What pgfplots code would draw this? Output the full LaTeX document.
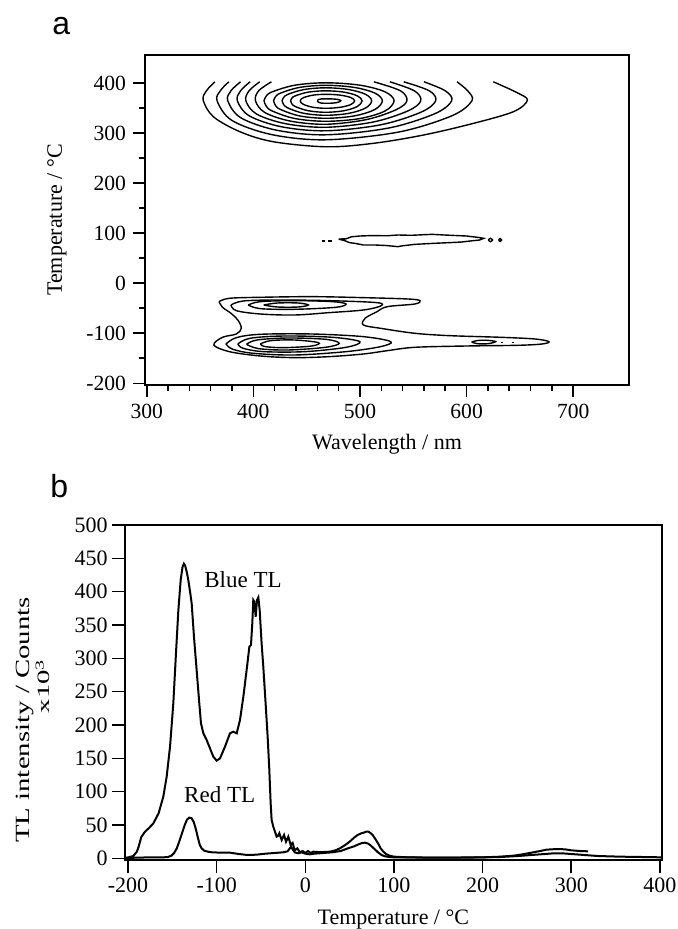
\documentclass[border=0pt]{standalone}
\usepackage{fontspec}
\setmainfont{Liberation Serif}
\newfontfamily\panelfont{Liberation Sans}
\usepackage{pgfplots}
\pgfplotsset{compat=1.18}

\pgfplotsset{
  igor/.style={
    scale only axis,
    axis line style={line width=0.8pt},
    tick align=outside, tick pos=left,
    every tick/.style={black, line width=0.8pt},
    /pgf/number format/assume math mode=true,
    /pgf/number format/1000 sep={},
  },
  cl/.style={black, line width=0.7pt, smooth, tension=0.55},
  tl/.style={black, line width=1pt, sharp plot},
}

\begin{document}
\begin{tikzpicture}
\path[use as bounding box] (0,0) rectangle (338.5pt,-464.5pt);

\node[font=\panelfont\fontsize{16}{16}\selectfont, anchor=base west, inner sep=0pt] at (26pt,-17.5pt) {a};
\node[font=\panelfont\fontsize{16}{16}\selectfont, anchor=base west, inner sep=0pt] at (25pt,-248.5pt) {b};

% ---------------- panel a: contour map ----------------
\begin{axis}[igor,
  at={(72.5pt,-27.5pt)}, anchor=north west,
  width=242pt, height=165pt,
  xmin=298.4, xmax=752.3, ymin=-203.4, ymax=456.6,
  xtick={300,400,...,700}, ytick={-200,-100,...,400},
  minor x tick num=4, minor y tick num=1,
  major tick length=6pt, minor tick length=3pt,
  tick label style={font=\fontsize{10.8}{12}\selectfont, inner sep=3.3pt},
  xlabel={Wavelength / nm}, ylabel={Temperature / °C},
  label style={font=\fontsize{11}{13}\selectfont},
  xlabel style={at={(axis description cs:0.5,-0.194)}, anchor=base},
  ylabel style={at={(axis description cs:-0.182,0.5)}, anchor=center},
]
% upper peak (~365 C), open contours cut at the top of the scan
\addplot[cl] coordinates {(364,403) (356,385) (353,366) (362.6,333) (387.6,303) (419,283) (469,273) (512.8,280) (559.7,296.6) (606.7,320) (644,343.3) (657,366) (647.6,381) (625,403)};
\addplot[cl] coordinates {(377,403) (369,385) (366,365) (379.7,326) (417,297.5) (468,287) (536.5,302.6) (586.6,335.4) (605,365) (601,385) (591,403)};
\addplot[cl] coordinates {(388,403) (379,385) (376,365) (388.3,331) (422,306.1) (468,297) (527,310.6) (570.2,339.2) (586,365) (580,385) (560,403)};
\addplot[cl] coordinates {(397,403) (388,385) (385,365) (396.1,335) (426.5,313) (468,305) (519.5,317) (557.2,342.2) (571,365) (565,385) (541,403)};
\addplot[cl] coordinates {(406,403) (396,385) (393,365) (403,338.5) (430.5,319.1) (468,312) (512.5,322.6) (545.1,344.9) (557,365) (551,385) (528,403)};
\addplot[cl] coordinates {(417,403) (405,385) (402,365) (410.8,341.5) (435,324.3) (468,318) (506,327.4) (533.8,347.1) (544,365) (538,385) (513,403)};
\addplot[cl] coordinates {(410,365) (412,354.4) (417.8,344.5) (439,329.5) (468,324) (500,329.5) (523.4,344.5) (532,365) (523.4,383) (500,396.2) (468,401) (439,396.2) (417.8,383) (412,374.3) (410,365)};
\addplot[cl] coordinates {(419,365) (420.7,355.9) (425.6,347.5) (443.5,334.7) (468,330) (494.5,334.7) (513.9,347.5) (521,365) (513.9,380.5) (494.5,391.8) (468,396) (443.5,391.8) (425.6,380.5) (420.7,373) (419,365)};
\addplot[cl] coordinates {(427,365) (428.4,357.5) (432.5,350.5) (447.5,339.9) (468,336) (489.5,339.9) (505.2,350.5) (511,365) (505.2,378) (489.5,387.5) (468,391) (447.5,387.5) (432.5,378) (428.4,371.7) (427,365)};
\addplot[cl] coordinates {(435,365) (436.1,359) (439.4,353.5) (451.5,345.1) (468,342) (485,345.1) (497.4,353.5) (502,365) (497.4,375) (485,382.3) (468,385) (451.5,382.3) (439.4,375) (436.1,370.2) (435,365)};
\addplot[cl] coordinates {(444,365) (444.8,361.1) (447.2,357.5) (456,352) (468,350) (481.5,352) (491.4,357.5) (495,365) (491.4,371.5) (481.5,376.3) (468,378) (456,376.3) (447.2,371.5) (444.8,368.4) (444,365)};
\addplot[cl] coordinates {(460,365) (461,362) (464,360.3) (468,360) (474,360.3) (479.5,362) (482,365) (479.5,367.6) (474,368.7) (468,369) (464,368.7) (461,367.6) (460,365)};

% middle band (~85 C)
\addplot[tl, line width=0.7pt] coordinates {(480,88.5) (487,89) (492,93) (500,94.6) (512,95.5) (525,95) (535.4,96.6) (548,96) (567.6,97.9) (580,96.5) (590,95.5) (599.8,94.6) (610,92) (616,89.9) (612,86.5) (605,85) (595,82.5) (583.8,81.3) (570,80) (551.5,77.9) (540,75) (535.4,73.3) (525,75.5) (515,76.5) (503.2,76.6) (495,80) (490.2,81.3) (486,85) (480,88.5)};
\addplot[tl, line width=0.7pt] coordinates {(464,84.6) (467.5,84.6)};
\addplot[tl, line width=0.7pt] coordinates {(470,84.6) (474,84.6)};
\addplot[cl] coordinates {(620.3,86.6) (622.3,90) (624.3,86.6) (622.3,83.2) (620.3,86.6)};
\addplot[cl] coordinates {(630,86.6) (631.4,89.5) (632.8,86.6) (631.4,83.7) (630,86.6)};

% lower peaks (~-45 C and ~-125 C) with the long red tail
\addplot[cl] coordinates {(367.8,-36.7) (377.5,-30) (406.5,-28) (454.8,-26.7) (503.2,-28.7) (545,-31.4) (556.3,-34.7) (551.5,-41.4) (525.7,-46.7) (516,-56.7) (504.8,-70) (503.2,-83.4) (519.3,-90) (551.5,-100) (583.8,-104.7) (632,-108) (664.2,-111.4) (677.2,-116.7) (670.7,-121.4) (648.2,-124) (599.8,-125.4) (551.5,-128) (525.7,-134.7) (503.2,-141.4) (470.9,-146.7) (438.7,-148.7) (406.5,-145.4) (377.5,-136.7) (363,-123.4) (371.1,-108) (384,-101.4) (388.7,-90) (385.5,-73.4) (379,-60) (371.1,-48) (367.8,-36.7)};
\addplot[cl] coordinates {(379,-43.4) (390.4,-35.4) (422.6,-33.4) (470.9,-34.7) (516,-38.7) (519.3,-45.4) (503.2,-53.4) (470.9,-58.7) (438.7,-63.4) (406.5,-61.4) (384,-54.7) (379,-43.4)};
\addplot[cl] coordinates {(395.2,-43.4) (406.5,-36.7) (438.7,-34.7) (474.2,-36.7) (487,-41.4) (477.4,-48) (438.7,-52) (406.5,-50.7) (395.2,-43.4)};
\addplot[cl] coordinates {(409.7,-43.4) (422.6,-39.4) (442,-39.4) (451.6,-43.4) (442,-47.4) (422.6,-47.4) (409.7,-43.4)};
\addplot[cl] coordinates {(374.3,-121.4) (384,-108.7) (406.5,-102) (454.8,-101.4) (503.2,-106.7) (528.9,-116.7) (519.3,-126.7) (487,-136.7) (438.7,-143.4) (400,-140) (380.8,-132) (374.3,-121.4)};
\addplot[cl] coordinates {(385.5,-121.4) (396.8,-110) (429,-105.4) (474.2,-108) (499.9,-116.7) (487,-128) (448.4,-136.7) (409.7,-136.7) (390.4,-130) (385.5,-121.4)};
\addplot[cl] coordinates {(393.6,-122) (403.3,-113.4) (432.3,-109.4) (467.7,-112) (480.6,-120) (467.7,-128) (432.3,-133.4) (404.9,-130.7) (393.6,-122)};
\addplot[cl] coordinates {(406.5,-121.4) (416.2,-114.7) (438.7,-113.4) (461.2,-118.7) (454.8,-125.4) (429,-128.7) (411.4,-126.7) (406.5,-121.4)};
\addplot[cl] coordinates {(604.7,-117.4) (610,-114.5) (618,-113.8) (627.2,-116.5) (620,-120.8) (610,-120.8) (604.7,-117.4)};
\addplot[tl, line width=0.7pt] coordinates {(632.5,-118) (634.5,-118)};
\addplot[tl, line width=0.7pt] coordinates {(642.3,-118) (644.3,-118)};
\end{axis}

% ---------------- panel b: glow curves ----------------
\begin{axis}[igor,
  at={(62.5pt,-262.5pt)}, anchor=north west,
  width=268.35pt, height=167.5pt,
  clip mode=individual,
  xmin=-203.4, xmax=402, ymin=-2.5, ymax=500,
  xtick={-200,-100,...,400}, ytick={0,50,...,500},
  major tick length=6.5pt,
  tick label style={font=\fontsize{11}{12}\selectfont, inner sep=2pt},
  xlabel={Temperature / °C},
  xlabel style={font=\fontsize{11}{13}\selectfont, at={(axis description cs:0.5,-0.194)}, anchor=base},
  ylabel={TL intensity / Counts},
  ylabel style={font=\fontsize{14.4}{16}\selectfont, at={(axis description cs:-0.186,0.418)}, anchor=center, yscale=0.7},
]
% Blue TL
\addplot[tl] coordinates {(-203,0.5) (-199.6,1.5) (-194,3.5) (-190,10) (-188,17.5) (-185,32) (-180.8,40) (-176,46) (-171.4,52.5) (-165.5,67.5) (-160.2,92.5) (-156.4,122.5) (-152.6,167.5) (-148.9,232.5) (-145.9,307.5) (-143.2,372.5) (-140.6,417.5) (-138.5,437) (-137,442) (-135.5,439) (-133.5,428) (-132,417.5) (-130,400) (-128.2,382.5) (-125.6,332.5) (-122.6,282.5) (-119.6,232.5) (-117.7,202.5) (-115,187.5) (-111.3,177.5) (-107.5,165) (-103.8,152.5) (-100,146.5) (-96.2,150) (-90.6,167.5) (-85,187.5) (-81.2,190) (-77.4,187.5) (-73.7,207.5) (-69.9,242.5) (-66.2,282.5) (-63.1,317.5) (-61.3,320) (-59.8,352.5) (-58.7,387.5) (-57.5,385) (-56,362.5) (-54.5,387.5) (-53,391.5) (-51.5,372.5) (-49.3,322.5) (-47.4,287.5) (-44.8,232.5) (-42.5,182.5) (-40.6,132.5) (-39.1,82.5) (-38,57.5) (-36.1,47.5) (-34.2,40) (-32.3,32.5) (-30.5,34) (-29.3,37.5) (-26.7,27.5) (-24,35) (-21.8,25) (-19.2,32.5) (-16.5,20) (-14.3,23) (-12,12) (-9,15) (-6,9) (-3,11) (0,8) (3,11) (6,8) (9,10) (14,9.5) (20,9.5) (28,10) (34,12) (39,15) (45,20) (50,25) (55,31) (59,35) (63,37.5) (66,38.5) (68.5,40) (71,40) (73.5,38) (76,35) (79,29) (82,22.5) (85,15) (88,10) (91,6.5) (95,4) (100,2.5) (115,1.5) (150,1) (180,1) (200,1.5) (220,2.5) (235,4) (245,6) (257,9) (265,11) (272,13) (284,14) (293,13.5) (300,12) (310,11) (319,10.5)};
% Red TL
\addplot[tl] coordinates {(-203,0.5) (-190,1) (-175,1.5) (-160,1.5) (-155,2) (-151,4) (-148,8) (-145,15) (-142,26) (-139,38) (-136,50) (-133.5,58) (-131,61) (-128.5,60.5) (-126,55) (-123.5,44) (-121,30) (-119,20) (-117,15) (-114,11.5) (-110,10) (-105,9) (-95,8.5) (-85,8.5) (-80,7.5) (-75,6.5) (-65,5) (-55,5.5) (-45,7) (-35,8) (-25,9) (-20,10.5) (-17.5,15) (-16,17) (-14.5,14) (-12,9) (-8,7.5) (-4,9) (0,7) (5,6) (10,7) (20,8) (30,9) (40,11) (48,15) (55,18) (60,21) (64,23) (67.5,23.5) (71,22) (74,19) (78,14) (82,9) (86,5) (90,3) (95,2) (100,1.5) (150,1) (200,1.5) (220,2) (240,3.5) (260,5.5) (280,7.5) (290,7.5) (300,6.5) (315,5) (330,3.5) (355,2.5) (380,2) (402,1.5)};
\node[font=\fontsize{11.5}{13}\selectfont] at (axis cs:-70.3,417.5) {Blue TL};
\node[font=\fontsize{11.5}{13}\selectfont] at (axis cs:-96.6,95.5) {Red TL};
\node[font=\fontsize{14.4}{16}\selectfont, rotate=90, yscale=0.6] at (axis description cs:-0.153,0.519) {x10\textsuperscript{3}};
\end{axis}
\end{tikzpicture}
\end{document}
